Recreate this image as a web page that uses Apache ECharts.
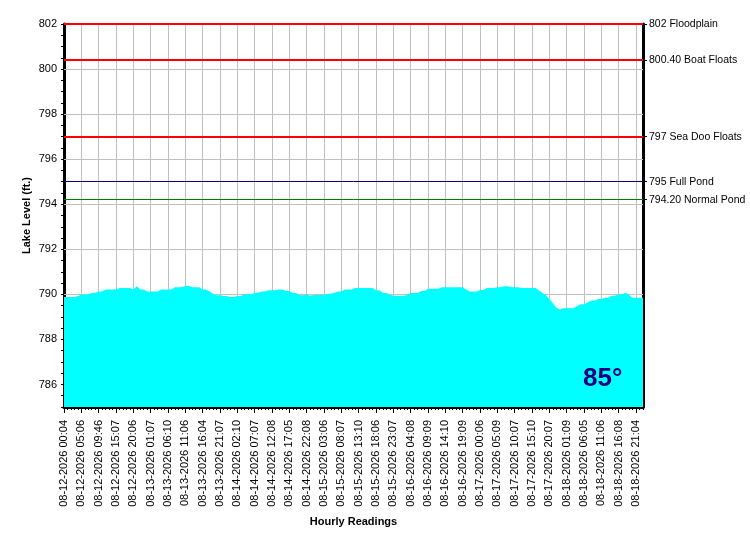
<!DOCTYPE html>
<html>
<head>
<meta charset="utf-8">
<script src="https://cdn.jsdelivr.net/npm/echarts@6/dist/echarts.min.js"></script>
<style>html,body{margin:0;padding:0;background:#fff}#c{width:750px;height:550px}</style>
</head>
<body>
<div id="c"></div>
<script>
var tickLabels = [
  '08-12-2026 00:04','08-12-2026 05:06','08-12-2026 09:46','08-12-2026 15:07','08-12-2026 20:06',
  '08-13-2026 01:07','08-13-2026 06:10','08-13-2026 11:06','08-13-2026 16:04','08-13-2026 21:07',
  '08-14-2026 02:10','08-14-2026 07:07','08-14-2026 12:08','08-14-2026 17:05','08-14-2026 22:08',
  '08-15-2026 03:06','08-15-2026 08:07','08-15-2026 13:10','08-15-2026 18:06','08-15-2026 23:07',
  '08-16-2026 04:08','08-16-2026 09:09','08-16-2026 14:10','08-16-2026 19:09',
  '08-17-2026 00:06','08-17-2026 05:09','08-17-2026 10:07','08-17-2026 15:10','08-17-2026 20:07',
  '08-18-2026 01:09','08-18-2026 06:05','08-18-2026 11:06','08-18-2026 16:08','08-18-2026 21:04'
];
var levels = [
  789.88,789.88,789.88,789.88,789.93,789.99,789.99,789.99,790.07,790.07,
  790.13,790.13,790.21,790.21,790.21,790.21,790.28,790.28,790.28,790.28,
  790.22,790.36,790.21,790.21,790.13,790.13,790.13,790.13,790.22,790.22,
  790.22,790.22,790.31,790.31,790.31,790.37,790.37,790.32,790.32,790.32,
  790.22,790.22,790.13,790.03,789.96,789.96,789.93,789.93,789.88,789.88,
  789.93,789.93,790.00,790.00,790.00,790.07,790.07,790.13,790.13,790.18,
  790.18,790.18,790.22,790.22,790.15,790.15,790.06,790.06,789.96,789.96,
  789.99,789.94,789.97,789.97,789.97,789.97,790.03,790.03,790.07,790.13,
  790.13,790.22,790.22,790.22,790.28,790.28,790.28,790.28,790.28,790.28,
  790.18,790.18,790.06,790.06,789.99,789.94,789.94,789.94,789.94,789.97,
  790.06,790.06,790.06,790.15,790.15,790.25,790.25,790.25,790.25,790.32,
  790.32,790.32,790.32,790.32,790.32,790.32,790.22,790.13,790.13,790.13,
  790.19,790.19,790.28,790.28,790.28,790.31,790.31,790.36,790.36,790.31,
  790.31,790.31,790.28,790.28,790.28,790.28,790.28,790.18,790.06,789.96,
  789.81,789.61,789.40,789.33,789.38,789.38,789.38,789.38,789.48,789.56,
  789.56,789.64,789.72,789.72,789.79,789.79,789.85,789.85,789.94,789.94,
  790.00,790.00,790.07,789.97,789.85,789.85,789.85,789.85
];
var gridLevels = [786, 788, 790, 792, 794, 796, 798, 800];
var refValues = [802, 800.4, 797, 795, 794.2];
var refNames = ['802 Floodplain', '800.40 Boat Floats', '797 Sea Doo Floats', '795 Full Pond', '794.20 Normal Pond'];
var refColors = ['#ff0000', '#ff0000', '#ff0000', '#000080', '#008000'];
var refWidths = [2, 2, 2, 1, 1];
var tempText = '85\u00b0';

var categories = levels.map(function (v, i) { return i % 5 === 0 ? tickLabels[i / 5] : ''; });
var FONT = 'Liberation Sans, Arial, sans-serif';

var chart = echarts.init(document.getElementById('c'));
chart.setOption({
  backgroundColor: '#ffffff',
  animation: false,
  grid: { left: 64, right: 107, top: 24, bottom: 143, show: true, borderColor: '#000', borderWidth: 1, backgroundColor: 'transparent' },
  xAxis: [{
    type: 'category',
    data: categories,
    boundaryGap: false,
    name: 'Hourly Readings',
    nameLocation: 'middle',
    nameGap: 109,
    nameTextStyle: { fontFamily: FONT, fontSize: 11, fontWeight: 'bold', color: '#000' },
    axisLine: { lineStyle: { color: '#000', width: 3 } },
    axisTick: { show: true, interval: 0, length: 3, lineStyle: { color: '#000' } },
    axisLabel: { interval: 4, rotate: 90, margin: 13, fontFamily: FONT, fontSize: 11, color: '#000' },
    splitLine: { show: true, interval: 4, lineStyle: { color: '#c0c0c0', width: 1 } }
  }, {
    type: 'category',
    data: categories,
    boundaryGap: false,
    position: 'bottom',
    axisLine: { show: false },
    axisTick: { show: true, interval: 4, length: 6, lineStyle: { color: '#000' } },
    axisLabel: { show: false },
    splitLine: { show: false }
  }],
  yAxis: [{
    type: 'value',
    min: 785,
    max: 802,
    interval: 0.5,
    name: 'Lake Level (ft.)',
    nameLocation: 'middle',
    nameGap: 32,
    nameMoveOverlap: false,
    nameRotate: 90,
    nameTextStyle: { fontFamily: FONT, fontSize: 11, fontWeight: 'bold', color: '#000' },
    axisLine: { show: true, lineStyle: { color: '#000', width: 3 } },
    axisTick: { show: true, length: 3, lineStyle: { color: '#000' } },
    axisLabel: {
      margin: 7, fontFamily: FONT, fontSize: 11, color: '#000',
      formatter: function (v) { return (Math.abs(v % 2) < 1e-6) ? String(v) : ''; }
    },
    splitLine: { show: false }
  }, {
    type: 'value',
    position: 'right',
    min: 785,
    max: 802,
    interval: 0.5,
    axisLine: { show: true, lineStyle: { color: '#000', width: 3 } },
    axisTick: { show: true, length: 4, customValues: refValues, lineStyle: { color: '#000' } },
    axisLabel: {
      show: true, margin: 6, fontFamily: FONT, fontSize: 10.5, color: '#000',
      customValues: refValues,
      formatter: function (v) {
        for (var i = 0; i < refValues.length; i++) { if (Math.abs(refValues[i] - v) < 1e-6) return refNames[i]; }
        return '';
      }
    },
    splitLine: { show: false }
  }],
  graphic: [{
    type: 'text',
    left: 583,
    top: 366,
    z: 100,
    style: { text: tempText, font: 'bold 26px ' + FONT, fill: '#000080' }
  }],
  series: [{
    type: 'line',
    name: 'grid',
    data: levels,
    z: 1,
    symbol: 'none',
    silent: true,
    lineStyle: { opacity: 0 },
    markLine: {
      z: 1,
      silent: true,
      symbol: 'none',
      label: { show: false },
      lineStyle: { color: '#c0c0c0', width: 1, type: 'solid' },
      data: gridLevels.map(function (v) { return { yAxis: v }; })
    }
  }, {
    type: 'line',
    name: 'level',
    data: levels,
    z: 3,
    xAxisIndex: 0,
    yAxisIndex: 0,
    symbol: 'none',
    lineStyle: { width: 0, color: '#00ffff' },
    areaStyle: { color: '#00ffff', opacity: 1 },
    silent: true,
    markLine: {
      z: 5,
      silent: true,
      symbol: 'none',
      label: { show: false },
      data: refValues.map(function (v, i) {
        return { yAxis: v, lineStyle: { color: refColors[i], width: refWidths[i], type: 'solid' } };
      })
    }
  }]
});
</script>
</body>
</html>
